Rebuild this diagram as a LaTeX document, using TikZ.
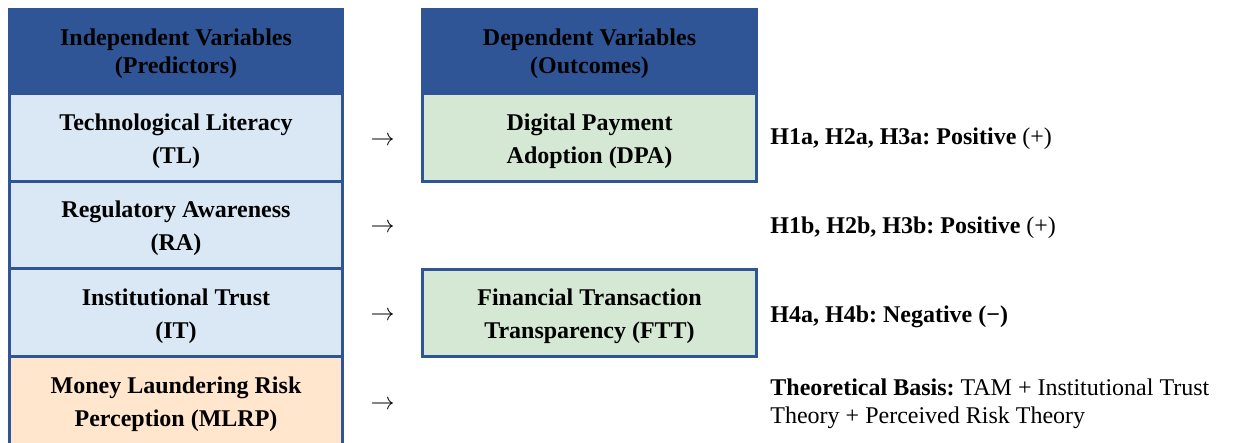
\documentclass[tikz,border=0pt]{standalone}
\usepackage{fontspec}
\setmainfont{Liberation Serif}
\frenchspacing

\definecolor{hdblue}{HTML}{2F5597}
\definecolor{ivblue}{HTML}{DAE8F5}
\definecolor{dvgreen}{HTML}{D5E8D4}
\definecolor{riskorange}{HTML}{FFE6CC}

\tikzset{
  varcell/.style={draw=hdblue, line width=1.5pt, minimum width=166.5pt, minimum height=43.75pt,
    inner sep=0pt, outer sep=0pt, align=center, text height=25.8pt, text depth=0pt,
    font=\bfseries\fontsize{12}{16.5}\selectfont},
  hdcell/.style={varcell, fill=hdblue, minimum height=42.1pt, text height=21.7pt,
    font=\bfseries\fontsize{12}{13.8}\selectfont},
  hyp/.style={anchor=base west, inner sep=0pt, align=left, font=\fontsize{12}{13.8}\selectfont},
  arr/.style={inner sep=0pt, font=\fontsize{12}{14}\selectfont}
}

\begin{document}
\begin{tikzpicture}[x=0.5pt, y=-0.5pt]
    \useasboundingbox (0,0) rectangle (1235,443);

    % predictors
    \node[hdcell] (ivhead) at (176,51.6) {Independent Variables\\(Predictors)};
    \node[varcell, fill=ivblue] (tl) at (176,137.5) {Technological Literacy\\(TL)};
    \node[varcell, fill=ivblue] (ra) at (176,225) {Regulatory Awareness\\(RA)};
    \node[varcell, fill=ivblue] (it) at (176,312.5) {Institutional Trust\\(IT)};
    \node[varcell, fill=riskorange, minimum height=45pt] (mlrp) at (176,401) {Money Laundering Risk\\Perception (MLRP)};

    % outcomes
    \node[hdcell, minimum width=167pt] (dvhead) at (589.5,51.6) {Dependent Variables\\(Outcomes)};
    \node[varcell, fill=dvgreen, minimum width=167pt] (dpa) at (589.5,137.5) {Digital Payment\\Adoption (DPA)};
    \node[varcell, fill=dvgreen, minimum width=167pt] (ftt) at (589.5,313) {Financial Transaction\\Transparency (FTT)};

    \node[arr] (a1) at (382.5,141) {$\rightarrow$};
    \node[arr] (a2) at (382.5,228) {$\rightarrow$};
    \node[arr] (a3) at (382.5,316) {$\rightarrow$};
    \node[arr] (a4) at (382.5,405) {$\rightarrow$};

    % hypotheses
    \node[hyp] (h1) at (770,145) {\textbf{H1a, H2a, H3a: Positive} (+)};
    \node[hyp] (h2) at (770,234) {\textbf{H1b, H2b, H3b: Positive} (+)};
    \node[hyp] (h4) at (770,322) {\textbf{H4a, H4b: Negative (−)}};
    \node[hyp] (basis) at (770,423.3) {\textbf{Theoretical Basis:} TAM + Institutional Trust\\Theory + Perceived Risk Theory};
\end{tikzpicture}
\end{document}
